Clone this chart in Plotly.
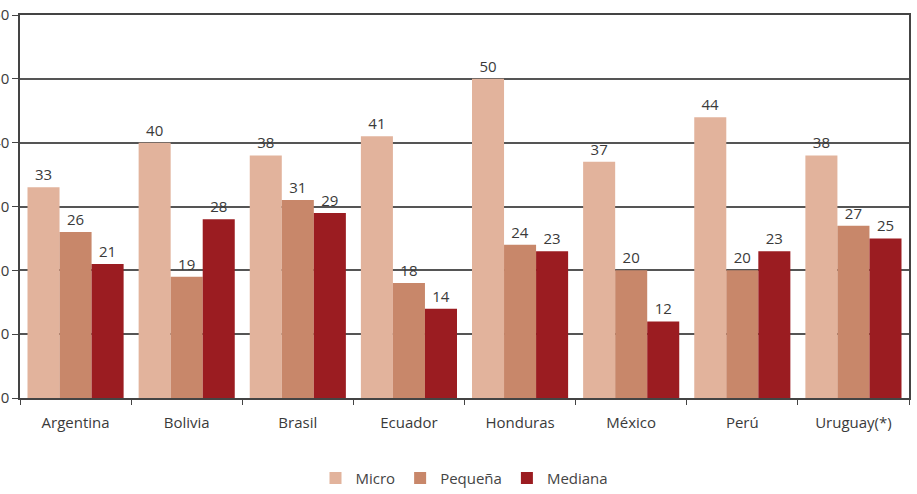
import plotly.graph_objects as go

categories = ["Argentina", "Bolivia", "Brasil", "Ecuador", "Honduras", "México", "Perú", "Uruguay(*)"]
micro = [33, 40, 38, 41, 50, 37, 44, 38]
pequena = [26, 19, 31, 18, 24, 20, 20, 27]
mediana = [21, 28, 29, 14, 23, 12, 23, 25]

series = [("Micro", micro, "#E2B39C"), ("Pequeña", pequena, "#C8876A"), ("Mediana", mediana, "#9B1C21")]

fig = go.Figure()
for name, vals, col in series:
    fig.add_trace(go.Bar(
        x=categories, y=vals, name=name, marker=dict(color=col, line=dict(width=0)),
        text=[str(v) for v in vals], textposition="outside", cliponaxis=False,
        textfont=dict(color="#3a3a3a", size=15),
    ))

fig.update_layout(
    width=917, height=494,
    margin=dict(l=20, r=8, t=15, b=96),
    barmode="group", bargap=0.135, bargroupgap=0,
    paper_bgcolor="white", plot_bgcolor="white",
    font=dict(family="Open Sans, sans-serif", color="#3a3a3a", size=14),
    showlegend=True,
    legend=dict(orientation="h", x=0.5, xanchor="center", yref="container", y=0.032, yanchor="middle",
                font=dict(size=15, color="#444"), itemwidth=30, traceorder="normal"),
)
fig.update_xaxes(showline=True, linecolor="#444", linewidth=1.5, mirror=True, automargin=False,
                 ticks="outside", tickson="boundaries", ticklen=5, tickcolor="#444",
                 ticklabelstandoff=10,
                 showgrid=False, tickfont=dict(size=15, color="#3a3a3a"))
fig.update_yaxes(range=[0, 60], dtick=10, showline=True, linecolor="#444", linewidth=1.5, mirror=True,
                 automargin=False,
                 ticks="outside", ticklen=6, tickcolor="#444",
                 showgrid=True, gridcolor="#555", gridwidth=1.5, zeroline=False,
                 tickfont=dict(size=15, color="#3a3a3a"))

fig.write_html("out.html")
